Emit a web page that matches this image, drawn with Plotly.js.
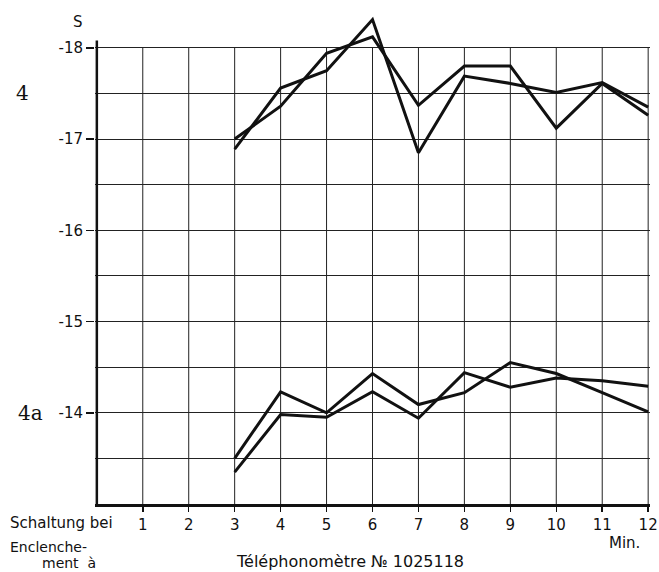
<!DOCTYPE html>
<html>
<head>
<meta charset="utf-8">
<script src="https://cdn.plot.ly/plotly-3.0.1.min.js"></script>
<style>html,body{margin:0;padding:0;background:#fff;}#chart{width:659px;height:572px;}</style>
</head>
<body>
<div id="chart"></div>
<script>
// minutes after switching on
const minutes = [3, 4, 5, 6, 7, 8, 9, 10, 11, 12];
// telephonometer readings, curve group "4"
const curve4_a = [-17.00, -17.36, -17.94, -18.12, -17.37, -17.80, -17.80, -17.12, -17.61, -17.26];
const curve4_b = [-16.89, -17.56, -17.75, -18.31, -16.85, -17.69, -17.61, -17.51, -17.62, -17.35];
// curve group "4a"
const curve4a_a = [-13.50, -14.23, -14.00, -14.43, -14.09, -14.22, -14.55, -14.43, -14.22, -14.01];
const curve4a_b = [-13.35, -13.98, -13.95, -14.23, -13.94, -14.44, -14.28, -14.38, -14.35, -14.29];

const xTickVals = [1, 2, 3, 4, 5, 6, 7, 8, 9, 10, 11, 12];
const xTickText = ['1', '2', '3', '4', '5', '6', '7', '8', '9', '10', '11', '12'];
const yTickVals = [-18, -17, -16, -15, -14];
const yTickText = ['-18', '-17', '-16', '-15', '-14'];
const yMinorVals = [-17.5, -16.5, -15.5, -14.5, -13.5];

const lineStyle = {color: '#111', width: 3};
const traces = [curve4_a, curve4_b, curve4a_a, curve4a_b].map(ys => ({
  x: minutes, y: ys, type: 'scatter', mode: 'lines', line: lineStyle, hoverinfo: 'skip'
}));

const shapes = [];
xTickVals.forEach(v => shapes.push({
  type: 'line', xref: 'x', yref: 'y', x0: v, x1: v, y0: -13, y1: -18,
  line: {color: '#222', width: 1}, layer: 'below'
}));
// y axis line, reaching a little above -18
shapes.push({type: 'line', xref: 'x', yref: 'y', x0: 0, x1: 0, y0: -13, y1: -18.08,
  line: {color: '#111', width: 2.5}});

const tickFont = {family: 'DejaVu Sans', size: 15, color: '#111'};
const smallFont = {family: 'DejaVu Sans', size: 14, color: '#111'};
const serif = {family: 'DejaVu Serif', size: 20, color: '#111'};

function note(text, xref, x, yref, y, xanchor, font) {
  return {text: text, xref: xref, yref: yref, x: x, y: y, xanchor: xanchor, yanchor: 'middle',
          showarrow: false, font: font || tickFont};
}

const layout = {
  width: 659, height: 572,
  margin: {l: 95, r: 9, t: 15, b: 68},
  paper_bgcolor: '#fff', plot_bgcolor: '#fff',
  showlegend: false,
  xaxis: {
    range: [-0.04, 12.04], tickvals: xTickVals, ticktext: xTickText,
    showgrid: false, zeroline: false, showline: true, linecolor: '#111', linewidth: 2.5,
    ticks: 'outside', ticklen: 5, tickwidth: 1.5, tickcolor: '#111', tickfont: tickFont
  },
  yaxis: {
    range: [-13, -18.36], tickvals: yTickVals, ticktext: yTickText,
    showgrid: true, gridcolor: '#222', gridwidth: 1, zeroline: false, showline: false,
    ticks: 'outside', ticklen: 8, tickwidth: 1.5, tickcolor: '#111', tickfont: tickFont,
    minor: {tickvals: yMinorVals, showgrid: true, gridcolor: '#222', gridwidth: 1, ticks: ''}
  },
  shapes: shapes,
  annotations: [
    note('S', 'paper', -0.031, 'paper', 0.986, 'center'),
    note('4', 'paper', -0.13, 'y', -17.5, 'center', serif),
    note('4a', 'paper', -0.117, 'y', -14.0, 'center', serif),
    note('Schaltung bei', 'paper', -0.156, 'paper', -0.039, 'left'),
    note('Enclenche-', 'paper', -0.156, 'paper', -0.088, 'left', smallFont),
    note('ment  à', 'paper', -0.1, 'paper', -0.12, 'left', smallFont),
    note('Min.', 'paper', 0.985, 'paper', -0.08, 'right'),
    note('Téléphonomètre № 1025118', 'paper', 0.459, 'paper', -0.117, 'center',
         {family: 'DejaVu Sans', size: 16, color: '#111'})
  ]
};

Plotly.newPlot('chart', traces, layout, {staticPlot: true, displayModeBar: false});
</script>
</body>
</html>
